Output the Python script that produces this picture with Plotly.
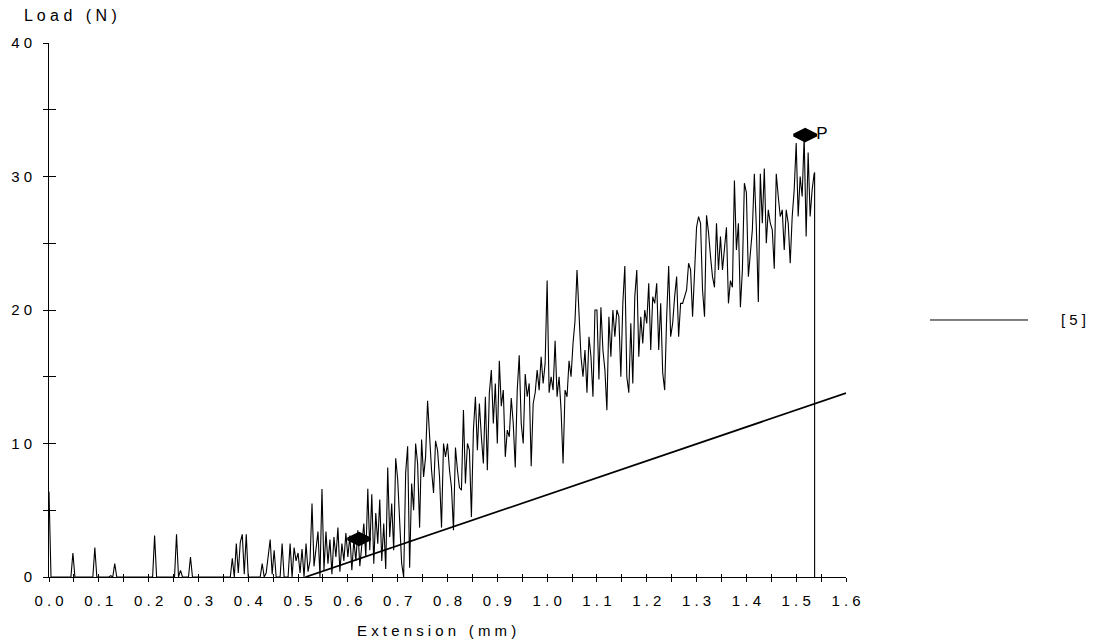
import plotly.graph_objects as go

# ---------------- data ----------------
EXT_STEP = 0.004  # sampling interval of the test machine (mm)
load_n = (
    [6.4,0,0,0,0,0,0,0,0,0,0,0,1.8,0,0,0,0,0,0,0,0,0,0,2.2,0]
    + [0,0,0,0,0,0,0.1,0,1.0,0,0,0,0,0,0,0,0,0,0,0,0,0,0,0,0]
    + [0,0,0,3.1,0,0,0,0,0,0,0,0,0,0,3.2,0,0.5,0,0,0,0,1.5,0,0,0]
    + [0,0,0,0,0,0,0,0,0,0,0,0,0,0,0,0,0,1.4,0,2.5,0.3,2.6,3.2,0.2,3.2]
    + [0,0,0,0,0,0,0,1.0,0,0.3,1.5,2.8,0.2,2.0,0,0,0,2.5,0,0,0,2.5,0,2.2,1.2]
    + [1.8,0.3,2.1,0,2.5,0.4,1.2,5.5,0.8,2.3,3.4,0,6.6,0.5,3.4,1.0,2.8,0.2,3.0,1.5,3.7,0.4,2.5,1.2,3.3]
    + [1.5,3.1,0.5,2.8,1.2,3.5,0.8,2.2,4.0,1.5,6.6,2.0,6.2,1.0,4.8,2.5,5.8,1.2,4.0,0.6,8.2,3.0,5.5,2.0,8.9]
    + [7.3,4.6,1.0,0.0,7.8,9.8,0.7,7.0,5.0,10.0,8.5,3.7,10.3,7.5,9.0,13.2,10.5,8.0,6.3,10.2,9.5,7.5,3.7,10.0,9.0]
    + [10.0,8.0,6.7,3.5,9.7,8.0,6.7,6.5,12.5,7.0,10.0,9.5,4.5,11.0,13.5,9.5,13.0,10.5,8.5,13.5,8.0,13.8,15.5,11.5,14.5]
    + [10.0,16.2,12.8,14.0,9.0,11.0,10.5,13.4,11.5,8.2,14.0,16.6,11.5,10.0,15.2,13.5,14.5,8.3,13.0,13.8,15.5,14.0,16.5,14.5,16.0]
    + [22.2,13.8,15.0,14.0,17.7,13.5,15.0,12.5,8.5,14.0,13.5,16.2,15.0,17.5,19.2,23.0,20.0,16.5,15.0,17.0,13.8,18.0,16.5,13.5,20.0]
    + [20.0,14.8,20.2,17.0,15.5,12.5,19.5,16.5,20.0,18.0,20.0,19.5,15.0,20.5,23.3,15.0,13.8,19.0,14.5,21.0,23.0,16.5,19.5,17.5,20.0]
    + [19.0,22.0,17.0,21.0,20.5,22.0,17.0,20.5,15.3,14.0,19.5,23.3,18.0,19.0,21.0,22.5,18.0,20.5,20.5,21.0,21.5,23.5,23.0,19.5,23.2]
    + [26.2,27.0,26.5,21.5,19.5,27.1,25.8,24.0,22.5,21.7,26.5,23.0,25.5,23.0,24.5,26.2,20.5,22.2,21.7,29.7,24.5,26.5,20.2,23.0,29.5]
    + [28.8,22.5,24.5,26.0,30.2,26.2,20.6,30.2,26.5,30.6,25.0,27.5,26.5,26.0,23.1,30.2,28.5,27.0,27.5,24.5,27.5,26.5,23.5,27.0,29.0]
    + [32.5,27.0,30.0,28.5,33.0,25.5,31.8,27.0,29.0,30.2]
)
extension_mm = [round(i * EXT_STEP, 3) for i in range(len(load_n))]
# break at end of test
tail_extension = [1.537, 1.537]
tail_load = [30.3, 0.0]

# straight (modulus) line
slope_ext = [0.515, 1.6]
slope_load = [0.0, 13.78]

# marked points
marker_ext = [0.6225, 1.518]
marker_load = [2.85, 33.1]
marker_text = ["", "P"]

x_tickvals = [round(i * 0.05, 2) for i in range(33)]
x_labels = ["0.0","0.1","0.2","0.3","0.4","0.5","0.6","0.7","0.8","0.9",
            "1.0","1.1","1.2","1.3","1.4","1.5","1.6"]
y_tickvals = [0, 5, 10, 15, 20, 25, 30, 35, 40]
y_labels = ["0", "", "10", "", "20", "", "30", "", "40"]
legend_label = "[5]"
y_title = "Load (N)"
x_title = "Extension (mm)"


def spaced(s):
    # wide letter spacing of the original print-out
    return "   ".join(" ".join(list(w)) for w in s.split(" "))


x_ticktext = [spaced(x_labels[i // 2]) if i % 2 == 0 else "" for i in range(len(x_tickvals))]
y_ticktext = [spaced(t) for t in y_labels]

FONT = "Liberation Sans, Arial, sans-serif"
axis_font = dict(family=FONT, size=15, color="black")

fig = go.Figure()
fig.add_trace(go.Scatter(
    x=extension_mm + tail_extension, y=load_n + tail_load,
    mode="lines", line=dict(color="black", width=1.1), showlegend=False,
    hoverinfo="skip", cliponaxis=False))
fig.add_trace(go.Scatter(
    x=slope_ext, y=slope_load, mode="lines",
    line=dict(color="black", width=1.8), showlegend=False))
fig.add_trace(go.Scatter(
    x=marker_ext, y=marker_load, mode="markers+text",
    marker=dict(symbol="diamond-wide", size=16, color="black",
                line=dict(color="black", width=3)),
    text=marker_text, textposition="middle right",
    textfont=dict(family=FONT, size=17, color="black"),
    showlegend=False, cliponaxis=False))
# invisible trace to activate secondary (inside-tick) axes
fig.add_trace(go.Scatter(x=[0], y=[0], xaxis="x2", yaxis="y2",
                         mode="markers", marker=dict(opacity=0),
                         showlegend=False, hoverinfo="skip"))

fig.update_layout(
    width=1096, height=643,
    margin=dict(l=49, r=250, t=43, b=66),
    paper_bgcolor="white", plot_bgcolor="white",
    font=axis_font,
    xaxis=dict(range=[0, 1.6], tickmode="array", tickvals=x_tickvals,
               ticktext=x_ticktext, ticks="outside", ticklen=4,
               tickcolor="black", tickwidth=1, showline=True,
               linecolor="black", linewidth=1, showgrid=False,
               zeroline=False, tickfont=axis_font, ticklabelstandoff=6),
    yaxis=dict(range=[0, 40], tickmode="array", tickvals=y_tickvals,
               ticktext=y_ticktext, ticks="outside", ticklen=5,
               tickcolor="black", tickwidth=1, showline=True,
               linecolor="black", linewidth=1, showgrid=False,
               zeroline=False, tickfont=axis_font, ticklabelstandoff=8),
    xaxis2=dict(range=[0, 1.6], overlaying="x", side="bottom", anchor="y2",
                tickmode="array", tickvals=x_tickvals, ticks="inside",
                ticklen=3, tickcolor="black", showticklabels=False,
                showline=False, showgrid=False, zeroline=False),
    yaxis2=dict(range=[0, 40], overlaying="y", side="left", anchor="x2",
                tickmode="array", tickvals=y_tickvals, ticks="inside",
                ticklen=7, tickcolor="black", showticklabels=False,
                showline=False, showgrid=False, zeroline=False),
    annotations=[
        dict(text=spaced(y_title), xref="paper", yref="paper",
             x=-0.034, y=1.0506, xanchor="left", yanchor="middle",
             showarrow=False, font=dict(family=FONT, size=16, color="black")),
        dict(text=spaced(x_title), xref="paper", yref="paper",
             x=0.4868, y=-0.1011, xanchor="center", yanchor="middle",
             showarrow=False, font=axis_font),
        dict(text=spaced(legend_label), xref="paper", yref="paper",
             x=1.286, y=0.4813, xanchor="center", yanchor="middle",
             showarrow=False, font=axis_font),
    ],
    shapes=[
        dict(type="line", xref="paper", yref="paper", x0=1.1054, x1=1.2284,
             y0=0.4813, y1=0.4813, line=dict(color="black", width=1)),
    ],
)

fig.write_html("out.html", config={"displayModeBar": False},
               post_script="document.body.style.margin='0px';")
